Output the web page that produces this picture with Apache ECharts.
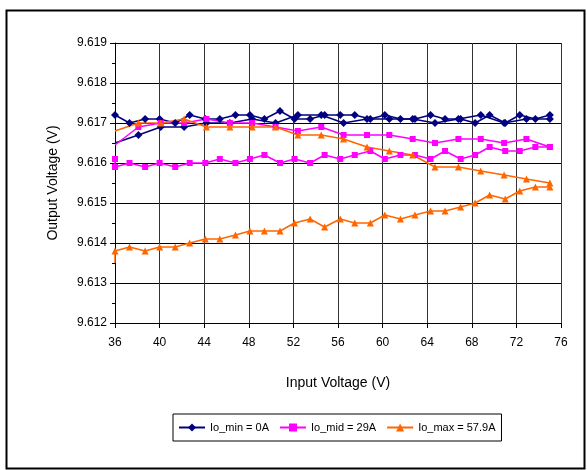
<!DOCTYPE html>
<html>
<head>
<meta charset="utf-8">
<script src="https://cdn.jsdelivr.net/npm/echarts@6/dist/echarts.min.js"></script>
<style>
html,body{margin:0;padding:0;background:#fff;}
#chart{width:587px;height:470px;}
</style>
</head>
<body>
<div id="chart"></div>
<script>
// ---- data ----
const xTicks = [36, 40, 44, 48, 52, 56, 60, 64, 68, 72, 76];
const yTicks = [9.612, 9.613, 9.614, 9.615, 9.616, 9.617, 9.618, 9.619];

// sweep A: 30 input-voltage points
const xA = [36, 37.3, 38.7, 40.0, 41.4, 42.7, 44.1, 45.4, 46.8, 48.1, 49.4, 50.8, 52.1, 53.5, 54.8,
            56.2, 57.5, 58.9, 60.2, 61.6, 62.9, 64.3, 65.6, 67.0, 68.3, 69.6, 71.0, 72.3, 73.7, 75.0];
// sweep B: 20 input-voltage points
const xB = [36, 38.1, 40.1, 42.2, 44.2, 46.3, 48.3, 50.4, 52.4, 54.5, 56.5, 58.6, 60.6, 62.7, 64.7,
            66.8, 68.8, 70.9, 72.9, 75.0];

const minA = [9.6172, 9.6170, 9.6171, 9.6171, 9.6170, 9.6172, 9.6171, 9.6171, 9.6172, 9.6172,
              9.6171, 9.6173, 9.6171, 9.6171, 9.6172, 9.6172, 9.6172, 9.6171, 9.6172, 9.6171,
              9.6171, 9.6172, 9.6171, 9.6171, 9.6170, 9.6172, 9.6170, 9.6172, 9.6171, 9.6172];
const minB = [9.6165, 9.6167, 9.6169, 9.6169, 9.6170, 9.6170, 9.6171, 9.6170, 9.6172, 9.6172,
              9.6170, 9.6171, 9.6171, 9.6171, 9.6170, 9.6171, 9.6172, 9.6170, 9.6171, 9.6171];

const midLeadIn = 9.6161;
const midA = [9.6159, 9.6160, 9.6159, 9.6160, 9.6159, 9.6160, 9.6160, 9.6161, 9.6160, 9.6161,
              9.6162, 9.6160, 9.6161, 9.6160, 9.6162, 9.6161, 9.6162, 9.6163, 9.6161, 9.6162,
              9.6162, 9.6161, 9.6163, 9.6161, 9.6162, 9.6164, 9.6163, 9.6163, 9.6164, 9.6164];
const midB = [9.61645, 9.6169, 9.6170, 9.6170, 9.6171, 9.6170, 9.6170, 9.6169, 9.6168, 9.6169,
              9.6167, 9.6167, 9.6167, 9.6166, 9.6165, 9.6166, 9.6166, 9.6165, 9.6166, 9.6164];

const maxLeadIn = 9.6135;
const maxA = [9.6138, 9.6139, 9.6138, 9.6139, 9.6139, 9.6140, 9.6141, 9.6141, 9.6142, 9.6143,
              9.6143, 9.6143, 9.6145, 9.6146, 9.6144, 9.6146, 9.6145, 9.6145, 9.6147, 9.6146,
              9.6147, 9.6148, 9.6148, 9.6149, 9.6150, 9.6152, 9.6151, 9.6153, 9.6154, 9.6154];
const maxB = [9.6168, 9.6170, 9.6170, 9.6171, 9.6169, 9.6169, 9.6169, 9.6169, 9.6167, 9.6167,
              9.6166, 9.6164, 9.6163, 9.6162, 9.6159, 9.6159, 9.6158, 9.6157, 9.6156, 9.6155];

const names = ['Io_min = 0A', 'Io_mid = 29A', 'Io_max = 57.9A'];
const colors = ['#000080', '#FF00FF', '#FF6600'];
const symbols = ['diamond', 'rect', 'triangle'];
const symbolSizes = [8, 6, 7];

// build [x, y] pairs; the first point's marker can be hidden (it sits on the axis edge in the reference)
function zip(xs, ys, lead, hideFirst) {
  const out = [];
  if (lead !== undefined) out.push([xs[0], lead]);
  xs.forEach((x, i) => out.push([x, ys[i]]));
  if (hideFirst) out[0] = {value: out[0], symbol: 'none'};
  return out;
}

const curves = [
  {k: 0, d: zip(xA, minA)}, {k: 0, d: zip(xB, minB, undefined, true)},
  {k: 1, d: zip(xA, midA, midLeadIn)}, {k: 1, d: zip(xB, midB, undefined, true)},
  {k: 2, d: zip(xA, maxA, maxLeadIn, true)}, {k: 2, d: zip(xB, maxB, undefined, true)}
];

const series = curves.map(c => ({
  name: names[c.k],
  type: 'line',
  data: c.d,
  symbol: symbols[c.k],
  symbolSize: symbolSizes[c.k],
  showAllSymbol: true,
  lineStyle: {color: colors[c.k], width: 1.5},
  itemStyle: {color: colors[c.k]},
  animation: false
}));

const chart = echarts.init(document.getElementById('chart'), null, {renderer: 'canvas'});
chart.setOption({
  backgroundColor: '#fff',
  animation: false,
  textStyle: {fontFamily: 'Liberation Sans, Arial, sans-serif'},
  graphic: [{
    type: 'rect', left: 4, top: 8,
    shape: {width: 578, height: 458},
    style: {fill: 'none', stroke: '#000', lineWidth: 2},
    silent: true
  }],
  grid: {left: 115, right: 26, top: 43, bottom: 147},
  xAxis: {
    type: 'value', min: xTicks[0], max: xTicks[xTicks.length - 1], interval: 4,
    name: 'Input Voltage (V)', nameLocation: 'middle', nameGap: 53,
    nameTextStyle: {fontSize: 14, color: '#000', fontFamily: 'Liberation Sans'},
    axisLine: {lineStyle: {color: '#000', width: 1}},
    axisTick: {show: true, length: 5, lineStyle: {color: '#000'}},
    axisLabel: {fontSize: 12, color: '#000', margin: 14, fontFamily: 'Liberation Sans'},
    splitLine: {show: true, lineStyle: {color: '#333', width: 1}}
  },
  yAxis: {
    type: 'value', min: yTicks[0], max: yTicks[yTicks.length - 1], interval: 0.001,
    name: 'Output Voltage (V)', nameLocation: 'middle', nameGap: 55,
    nameTextStyle: {fontSize: 14, color: '#000', fontFamily: 'Liberation Sans'},
    axisLine: {show: true, lineStyle: {color: '#000', width: 1}},
    axisTick: {show: true, length: 5, lineStyle: {color: '#000'}},
    minorTick: {show: true, splitNumber: 2, length: 3, lineStyle: {color: '#000'}},
    axisLabel: {fontSize: 12, color: '#000', margin: 8, fontFamily: 'Liberation Sans',
                formatter: v => v.toFixed(3)},
    splitLine: {show: true, lineStyle: {color: '#000', width: 1}}
  },
  legend: {
    data: names,
    left: 173, top: 414,
    itemWidth: 26, itemHeight: 10, itemGap: 10,
    padding: [8, 6, 8, 5],
    borderColor: '#000', borderWidth: 1,
    textStyle: {fontSize: 11, color: '#000', fontFamily: 'Liberation Sans'}
  },
  series: series
});
</script>
</body>
</html>
